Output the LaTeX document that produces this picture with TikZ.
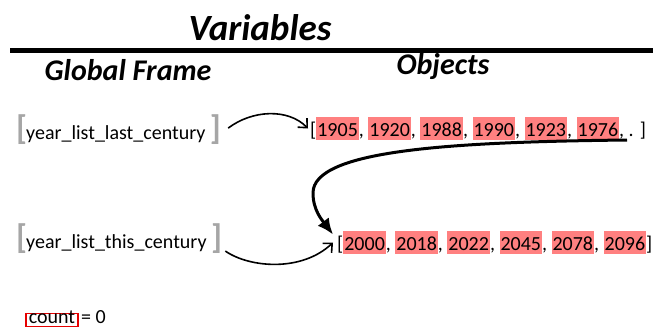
\documentclass[tikz,border=0pt]{standalone}
\usepackage{fontspec}
\setmainfont{Carlito}
\usetikzlibrary{arrows.meta}
\definecolor{hl}{RGB}{255,128,128}
\definecolor{brk}{RGB}{166,166,166}
\definecolor{boxred}{RGB}{230,0,0}
\newcommand{\yr}[1]{{\setlength{\fboxsep}{0pt}\colorbox{hl}{\rule[-0.2em]{0pt}{1.15em}\kern1pt #1\kern1pt}}}
\newcommand{\gbr}[1]{{\color{brk}\fontsize{34}{34}\selectfont\bfseries #1}}
\begin{document}
\begin{tikzpicture}[x=1pt,y=-1pt,
  head/.style={font=\fontsize{30}{36}\selectfont\bfseries\itshape, inner sep=0, anchor=base},
  varname/.style={font=\fontsize{20}{24}\selectfont, inner sep=0, anchor=base west},
  objlist/.style={font=\fontsize{20}{24}\selectfont, inner sep=0, anchor=base west},
  thin arrow/.style={line width=1.6pt, -{Straight Barb[length=7pt,width=13pt]}},
  thick arrow/.style={line width=3pt, -{Latex[length=16pt,width=14pt]}}]
\useasboundingbox (0,0) rectangle (653,327);
\node[head, font=\fontsize{37}{44}\selectfont\bfseries\itshape] (title) at (260,40) {Variables};
\draw[line width=4.5pt] (10,50.5) -- (653,50.5);
\node[head] (gf) at (128,80) {Global Frame};
\node[head] (obj) at (443,74) {Objects};
\node[varname] (v1) at (16,139) {\gbr{[}\kern-1pt year\_list\_last\_century \gbr{]}};
\node[objlist] (l1) at (310,136) {[\yr{1905}, \yr{1920}, \yr{1988}, \yr{1990}, \yr{1923}, \yr{1976}, . ]};
\node[varname] (v2) at (16,248) {\gbr{[}\kern-1pt year\_list\_this\_century \gbr{]}};
\node[objlist] (l2) at (337,250) {[\yr{2000}, \yr{2018}, \yr{2022}, \yr{2045}, \yr{2078}, \yr{2096}]};
\node[draw=boxred, line width=1.5pt, inner xsep=3pt, inner ysep=1.5pt, text height=0.8em, text depth=0.2em, font=\fontsize{20}{24}\selectfont, anchor=base west] (cnt) at (25,323) {count};
\node[font=\fontsize{20}{24}\selectfont, inner sep=0, anchor=base west] (eq) at ([xshift=2pt]cnt.base east) {= 0};
\coordinate (cs) at (627,140);
\draw[thin arrow] ([xshift=7pt,yshift=1pt]v1.east) .. controls (252,110) and (288,108) .. ([xshift=-2pt]l1.west);
\draw[thin arrow] ([xshift=3pt,yshift=-13pt]v2.east) .. controls (250,268) and (302,272) .. ([xshift=-4pt]l2.west);
\draw[thick arrow] (cs) .. controls (450,142) and (313,150) .. (313,193) .. controls (313,210) and (322,220) .. ([xshift=-4pt,yshift=8pt]l2.west);
\end{tikzpicture}
\end{document}
